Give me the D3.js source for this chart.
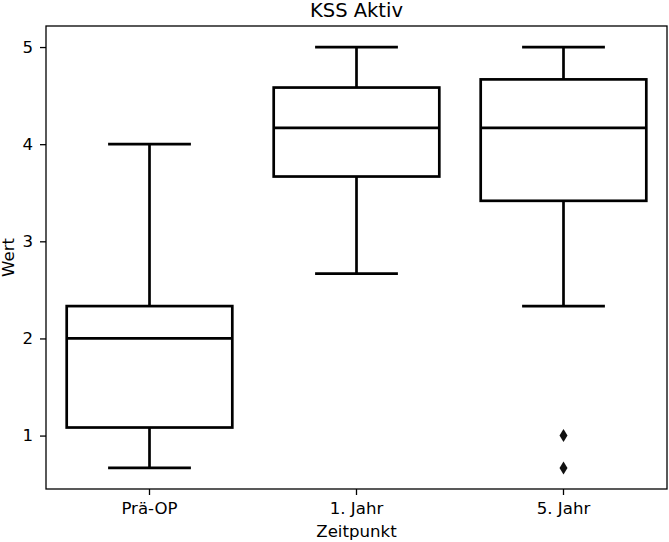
<!DOCTYPE html>
<html>
<head>
<meta charset="utf-8">
<script src="https://cdn.jsdelivr.net/npm/d3@7"></script>
<style>
  body { margin: 0; background: #fff; }
  svg text { font-family: "DejaVu Sans", sans-serif; fill: #000; }
</style>
</head>
<body>
<svg id="box" width="669" height="542"></svg>
<script>
var categories = ["Prä-OP", "1. Jahr", "5. Jahr"];
var whiskerLow = [0.667, 2.667, 2.333];
var q1 = [1.083, 3.667, 3.417];
var median = [2.0, 4.167, 4.167];
var q3 = [2.333, 4.583, 4.667];
var whiskerHigh = [4.0, 5.0, 5.0];
var outliers = [[], [], [1.0, 0.667]];
var yTicks = [1, 2, 3, 4, 5];

var data = categories.map(function (c, i) {
  return { cat: c, lo: whiskerLow[i], q1: q1[i], med: median[i], q3: q3[i], hi: whiskerHigh[i], out: outliers[i] };
});

var svg = d3.select("#box"),
  margin = { top: 26, right: 2, bottom: 53, left: 46 },
  width = +svg.attr("width") - margin.left - margin.right,
  height = +svg.attr("height") - margin.top - margin.bottom;

var x = d3.scaleBand().domain(categories).range([0, width]).padding(0);
var y = d3.scaleLinear().domain([0.45, 5.2167]).range([height, 0]);

var g = svg.append("g")
  .attr("transform", "translate(" + margin.left + "," + margin.top + ")");

var boxW = x.bandwidth() * 0.8,
  capW = boxW / 2,
  lw = 2.7;

var box = g.selectAll(".box")
  .data(data)
  .enter().append("g")
  .attr("class", "box")
  .attr("transform", function (d) { return "translate(" + (x(d.cat) + x.bandwidth() / 2) + ",0)"; });

// whiskers
box.append("line")
  .attr("x1", 0).attr("x2", 0)
  .attr("y1", function (d) { return y(d.lo); })
  .attr("y2", function (d) { return y(d.q1); })
  .attr("stroke", "#000").attr("stroke-width", lw);
box.append("line")
  .attr("x1", 0).attr("x2", 0)
  .attr("y1", function (d) { return y(d.q3); })
  .attr("y2", function (d) { return y(d.hi); })
  .attr("stroke", "#000").attr("stroke-width", lw);

// caps
box.append("line")
  .attr("x1", -capW / 2).attr("x2", capW / 2)
  .attr("y1", function (d) { return y(d.lo); })
  .attr("y2", function (d) { return y(d.lo); })
  .attr("stroke", "#000").attr("stroke-width", lw);
box.append("line")
  .attr("x1", -capW / 2).attr("x2", capW / 2)
  .attr("y1", function (d) { return y(d.hi); })
  .attr("y2", function (d) { return y(d.hi); })
  .attr("stroke", "#000").attr("stroke-width", lw);

// box
box.append("rect")
  .attr("x", -boxW / 2)
  .attr("width", boxW)
  .attr("y", function (d) { return y(d.q3); })
  .attr("height", function (d) { return y(d.q1) - y(d.q3); })
  .attr("fill", "#fff")
  .attr("stroke", "#000").attr("stroke-width", lw);

// median
box.append("line")
  .attr("x1", -boxW / 2).attr("x2", boxW / 2)
  .attr("y1", function (d) { return y(d.med); })
  .attr("y2", function (d) { return y(d.med); })
  .attr("stroke", "#000").attr("stroke-width", lw);

// outliers (diamonds)
box.selectAll(".flier")
  .data(function (d) { return d.out; })
  .enter().append("path")
  .attr("class", "flier")
  .attr("d", "M0,-6.5L4,0L0,6.5L-4,0Z")
  .attr("transform", function (v) { return "translate(0," + y(v) + ")"; })
  .attr("fill", "#111");

// axes
var xAxis = g.append("g")
  .attr("transform", "translate(0," + height + ")")
  .call(d3.axisBottom(x).tickSize(6).tickPadding(7).tickSizeOuter(0));
var yAxis = g.append("g")
  .call(d3.axisLeft(y).tickValues(yTicks).tickFormat(d3.format("d")).tickSize(6).tickPadding(7).tickSizeOuter(0));

[xAxis, yAxis].forEach(function (a) {
  a.select(".domain").remove();
  a.selectAll("line").attr("stroke", "#000").attr("stroke-width", 1.3);
  a.selectAll("text").style("font-size", "16.6px").attr("fill", "#000");
});

// frame
g.append("rect")
  .attr("width", width).attr("height", height)
  .attr("fill", "none").attr("stroke", "#000").attr("stroke-width", 1.3);

// labels
svg.append("text")
  .attr("x", margin.left + width / 2).attr("y", 17)
  .attr("text-anchor", "middle")
  .style("font-size", "19.5px")
  .text("KSS Aktiv");

svg.append("text")
  .attr("x", margin.left + width / 2).attr("y", 537)
  .attr("text-anchor", "middle")
  .style("font-size", "16.6px")
  .text("Zeitpunkt");

svg.append("text")
  .attr("transform", "translate(14," + (margin.top + height / 2) + ") rotate(-90)")
  .attr("text-anchor", "middle")
  .style("font-size", "16.6px")
  .text("Wert");
</script>
</body>
</html>
